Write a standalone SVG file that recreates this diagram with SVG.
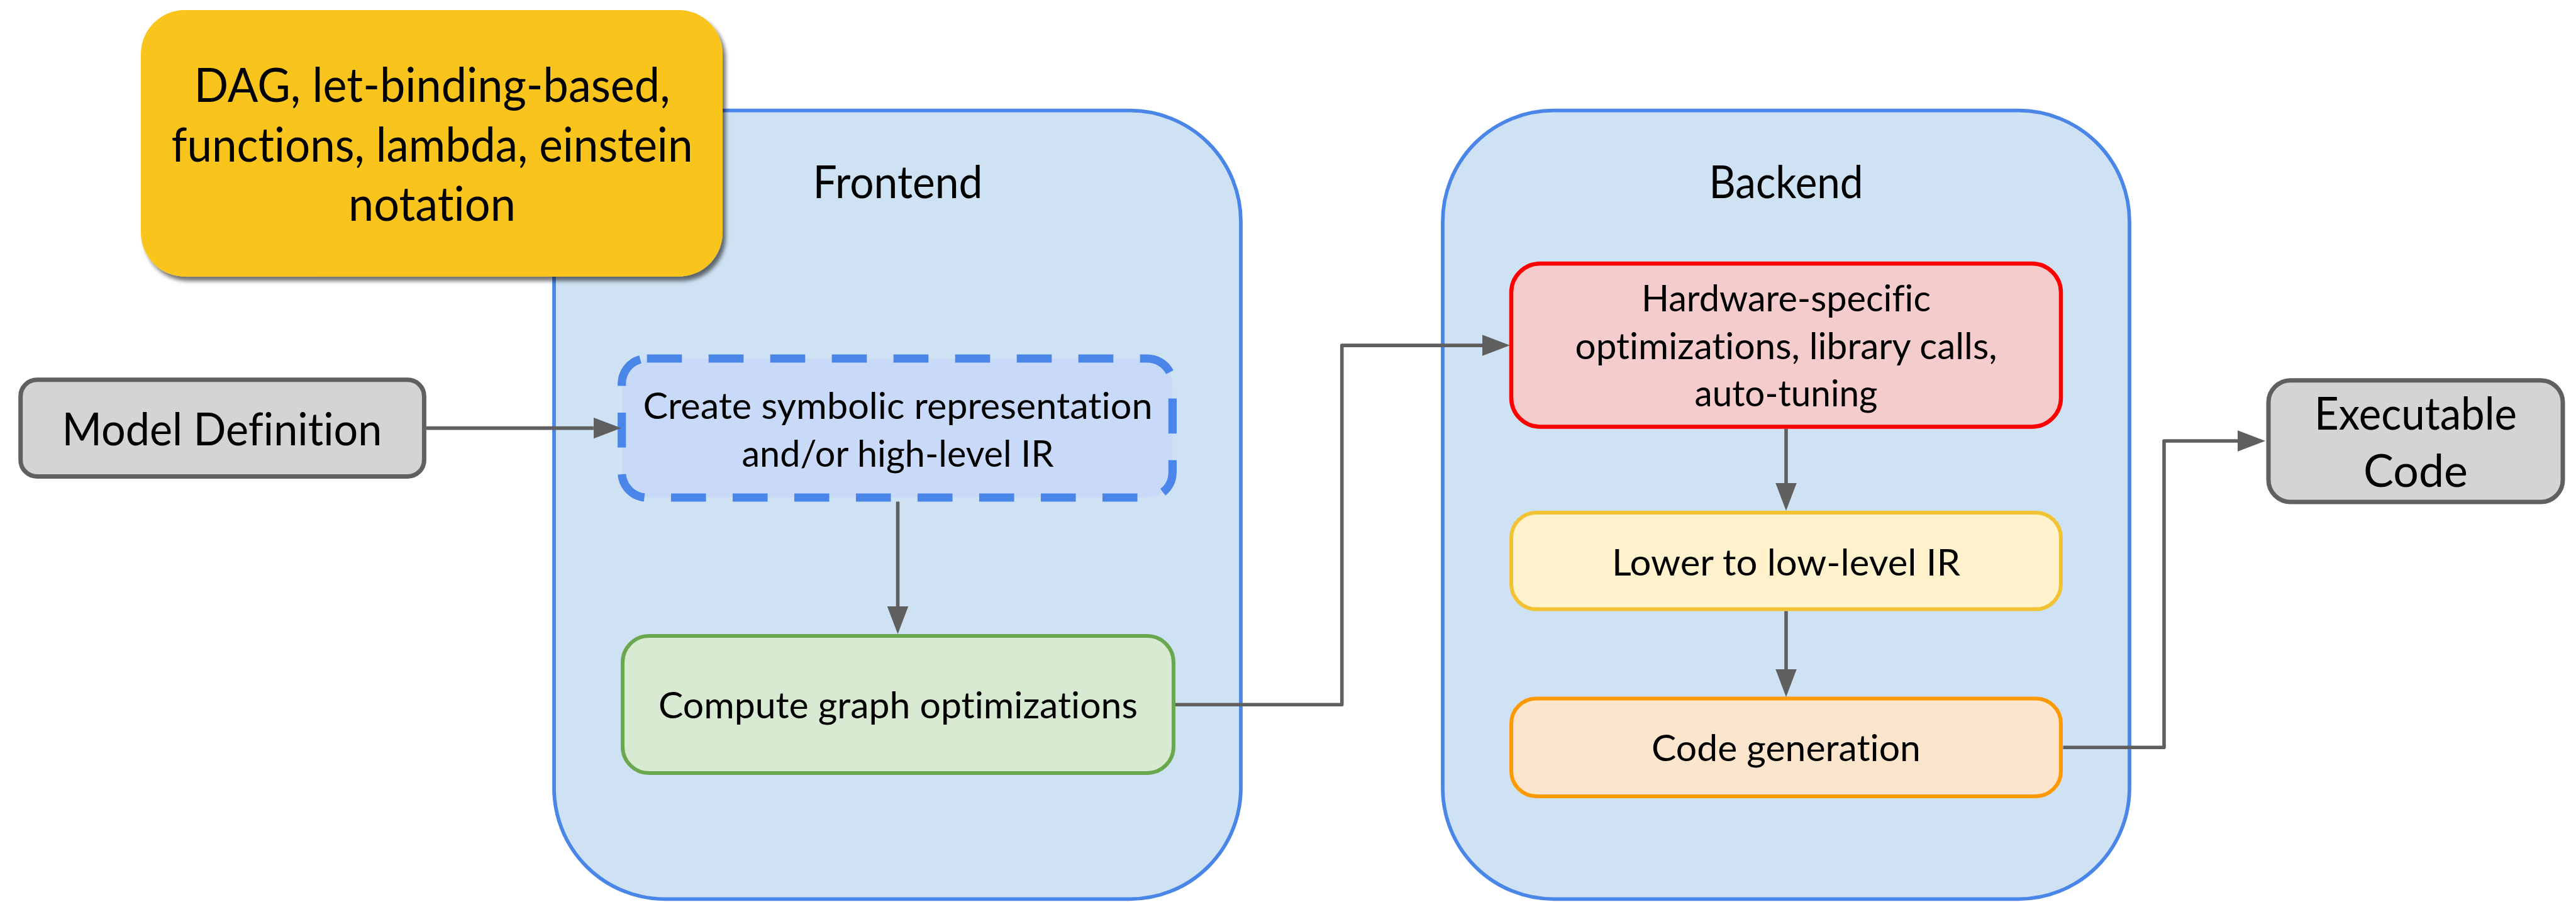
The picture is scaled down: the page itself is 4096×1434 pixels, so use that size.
<svg xmlns="http://www.w3.org/2000/svg" width="4096" height="1434" viewBox="0 0 4096 1434">
<defs>
<style>
.t{font-family:Lato,"Noto Sans","Liberation Sans",sans-serif;fill:#000;text-anchor:middle;font-variant-ligatures:none;font-feature-settings:"liga" 0,"dlig" 0}
.big{font-size:71.5px}
.sm{font-size:59px}
.yel{font-size:76.5px}
.cont{fill:#cfe2f3;stroke:#4a86e8;stroke-width:5.8}
.gray{fill:#d4d4d4;stroke:#606060;stroke-width:7}
.conn{fill:none;stroke:#5f5f5f;stroke-width:5.6;stroke-linejoin:round}
</style>
<marker id="ah" markerUnits="userSpaceOnUse" markerWidth="44" markerHeight="34" viewBox="0 0 44 33.5" refX="0" refY="16.75" orient="auto">
<path d="M0,0 L44,16.75 L0,33.5 Z" fill="#5f5f5f"/>
</marker>
<filter id="sh" x="-10%" y="-10%" width="125%" height="130%">
<feDropShadow dx="5" dy="7" stdDeviation="3" flood-color="#000" flood-opacity="0.55"/>
</filter>
</defs>
<rect x="0" y="0" width="4096" height="1434" fill="#ffffff"/>

<g id="frontend">
<rect class="cont" x="881" y="175.7" width="1092" height="1253.6" rx="176.5" ry="176.5"/>
<text class="t big" x="1427.5" y="315" textLength="270" lengthAdjust="spacingAndGlyphs">Frontend</text>
</g>
<g id="backend">
<rect class="cont" x="2294" y="175.7" width="1092" height="1253.6" rx="176.5" ry="176.5"/>
<text class="t big" x="2840" y="315" textLength="245" lengthAdjust="spacingAndGlyphs">Backend</text>
</g>

<g id="note">
<rect x="224" y="16" width="925" height="423.7" rx="70" ry="70" fill="#f9c51b" filter="url(#sh)"/>
<text class="t yel" x="687" y="161.5" textLength="757" lengthAdjust="spacingAndGlyphs">DAG, let-binding-based,</text>
<text class="t yel" x="687" y="257" textLength="829" lengthAdjust="spacingAndGlyphs">functions, lambda, einstein</text>
<text class="t yel" x="687" y="351" textLength="266" lengthAdjust="spacingAndGlyphs">notation</text>
</g>

<g id="model-definition">
<rect class="gray" x="32.7" y="603.8" width="641.7" height="153.6" rx="26" ry="26"/>
<text class="t big" x="353" y="708" textLength="509" lengthAdjust="spacingAndGlyphs">Model Definition</text>
</g>

<g id="create-symbolic">
<rect x="988.7" y="570" width="875.7" height="221" rx="40" ry="40" fill="#c9daf8" stroke="#4a86e8" stroke-width="13.2" stroke-dasharray="55.6 42.4"/>
<text class="t sm" x="1427.5" y="665.6" textLength="810" lengthAdjust="spacingAndGlyphs">Create symbolic representation</text>
<text class="t sm" x="1427.5" y="741.5" textLength="496" lengthAdjust="spacingAndGlyphs">and/or high-level IR</text>
</g>

<g id="compute-graph">
<rect x="990" y="1011" width="876" height="218" rx="42" ry="42" fill="#d9ead3" stroke="#6aa84f" stroke-width="6"/>
<text class="t sm" x="1428" y="1142" textLength="762" lengthAdjust="spacingAndGlyphs">Compute graph optimizations</text>
</g>

<g id="hardware-specific">
<rect x="2403" y="419" width="874" height="259.5" rx="46" ry="46" fill="#f4cccc" stroke="#ff0000" stroke-width="6.5"/>
<text class="t sm" x="2840" y="495" textLength="460" lengthAdjust="spacingAndGlyphs">Hardware-specific</text>
<text class="t sm" x="2840" y="571" textLength="671" lengthAdjust="spacingAndGlyphs">optimizations, library calls,</text>
<text class="t sm" x="2840" y="646" textLength="291" lengthAdjust="spacingAndGlyphs">auto-tuning</text>
</g>

<g id="lower-ir">
<rect x="2403" y="815" width="874" height="153.6" rx="40" ry="40" fill="#fff2cc" stroke="#f1c232" stroke-width="6"/>
<text class="t sm" x="2840" y="914.5" textLength="554" lengthAdjust="spacingAndGlyphs">Lower to low-level IR</text>
</g>

<g id="code-generation">
<rect x="2403" y="1110.5" width="874" height="155.4" rx="40" ry="40" fill="#fce5cd" stroke="#ff9900" stroke-width="6"/>
<text class="t sm" x="2840" y="1210" textLength="428" lengthAdjust="spacingAndGlyphs">Code generation</text>
</g>

<g id="executable-code">
<rect class="gray" x="3607" y="604.7" width="468" height="193.3" rx="35" ry="35"/>
<text class="t big" x="3841" y="683" textLength="322" lengthAdjust="spacingAndGlyphs">Executable</text>
<text class="t big" x="3841" y="774" textLength="166" lengthAdjust="spacingAndGlyphs">Code</text>
</g>

<g id="connectors">
<path class="conn" d="M678,680.6 H943.8" marker-end="url(#ah)"/>
<path class="conn" d="M1427.5,797.5 V964" marker-end="url(#ah)"/>
<path class="conn" d="M1869,1120.2 H2133.7 V549.1 H2357" marker-end="url(#ah)"/>
<path class="conn" d="M2840,681.7 V768" marker-end="url(#ah)"/>
<path class="conn" d="M2840,971.6 V1064" marker-end="url(#ah)"/>
<path class="conn" d="M3280.5,1188.2 H3441 V701 H3558" marker-end="url(#ah)"/>
</g>
</svg>
